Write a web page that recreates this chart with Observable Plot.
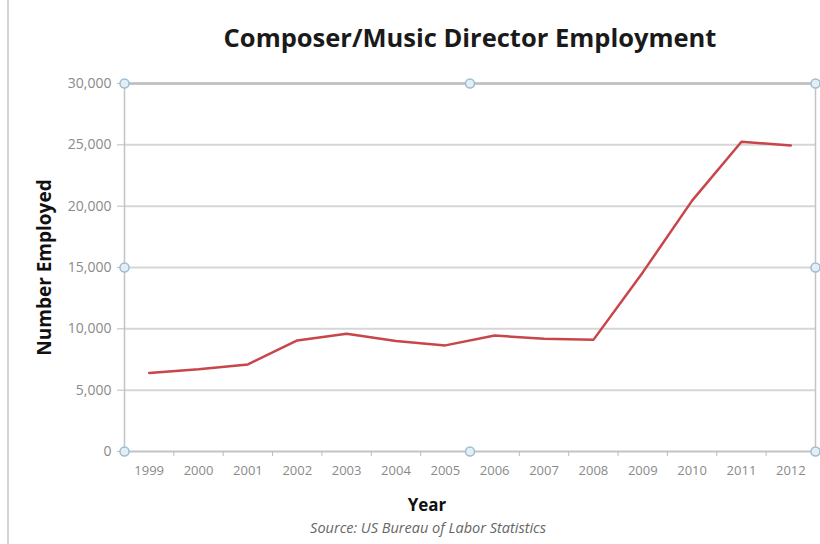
<!DOCTYPE html>
<html>
<head>
<meta charset="utf-8">
<script src="https://cdn.jsdelivr.net/npm/d3@7"></script>
<script src="https://cdn.jsdelivr.net/npm/@observablehq/plot@0.6"></script>
<style>
  html, body { margin: 0; padding: 0; background: #fff; }
  #wrap { position: relative; width: 820px; height: 544px; overflow: hidden; }
  #edge { position: absolute; left: 7px; top: 0; width: 2px; height: 544px; background: #d4d4d4; }
</style>
</head>
<body>
<div id="wrap"><div id="edge"></div></div>
<script>
const years = [1999, 2000, 2001, 2002, 2003, 2004, 2005, 2006, 2007, 2008, 2009, 2010, 2011, 2012];
const employed = [6400, 6700, 7100, 9050, 9600, 9000, 8650, 9450, 9200, 9100, 14600, 20450, 25250, 24950];
const yTicks = [0, 5000, 10000, 15000, 20000, 25000, 30000];
const title = "Composer/Music Director Employment";
const xLabel = "Year";
const yLabel = "Number Employed";
const source = "Source: US Bureau of Labor Statistics";

const data = years.map((year, i) => ({year, value: employed[i]}));
const boundaries = [...years.map(y => y - 0.5), years[years.length - 1] + 0.5];
const first = boundaries[0], last = boundaries[boundaries.length - 1];
const mid = (first + last) / 2;
const handles = [];
for (const hx of [first, mid, last]) for (const hy of [0, 15000, 30000]) {
  if (hx === mid && hy === 15000) continue;
  handles.push({x: hx, y: hy});
}
const fmt = d3.format(",");
const font = "'Open Sans', Lato, sans-serif";

const chart = Plot.plot({
  width: 820,
  height: 544,
  marginLeft: 124,
  marginRight: 5,
  marginTop: 83,
  marginBottom: 93,
  style: {fontFamily: font, background: "#fff", overflow: "visible"},
  x: {domain: [first, last], axis: null},
  y: {domain: [0, 30000], axis: null},
  marks: [
    Plot.ruleY(yTicks, {stroke: "#d6d6d6", strokeWidth: 2}),
    Plot.frame({stroke: "#c4c4c4", strokeWidth: 1.5}),
    Plot.ruleY([30000], {stroke: "#c0c0c0", strokeWidth: 2.5}),
    Plot.axisY({ticks: yTicks, tickSize: 7, tickPadding: 6, tickFormat: fmt, stroke: "#bcbcbc",
      fill: "#8a8a8a", fontSize: 14, label: null}),
    Plot.axisX({ticks: boundaries, tickSize: 5, tickFormat: () => "", stroke: "#bcbcbc", label: null}),
    Plot.axisX({ticks: years, tickSize: 0, tickPadding: 14, tickFormat: d => String(d),
      fill: "#8a8a8a", fontSize: 13, label: null}),
    Plot.line(data, {x: "year", y: "value", stroke: "#c8454a", strokeWidth: 2.5, strokeLinejoin: "miter"}),
    Plot.dot(handles, {x: "x", y: "y", r: 4.5, fill: "#e4eef5", stroke: "#9fbdd2", strokeWidth: 1.5}),
    Plot.text([title], {frameAnchor: "top", dy: -45, lineAnchor: "middle", textAnchor: "middle",
      fontSize: 25.5, fontWeight: "bold", fill: "#1a1a1a"}),
    Plot.text([yLabel], {frameAnchor: "left", dx: -80, rotate: -90, lineAnchor: "middle", textAnchor: "middle",
      fontSize: 19, fontWeight: "bold", fill: "#111"}),
    Plot.text([xLabel], {frameAnchor: "bottom", dx: -43, dy: 54, lineAnchor: "middle", textAnchor: "middle",
      fontSize: 17, fontWeight: "bold", fill: "#111"}),
    Plot.text([source], {frameAnchor: "bottom", dx: -42, dy: 77, lineAnchor: "middle", textAnchor: "middle",
      fontSize: 14.5, fontStyle: "italic", fill: "#666"})
  ]
});
document.getElementById("wrap").appendChild(chart);
</script>
</body>
</html>
